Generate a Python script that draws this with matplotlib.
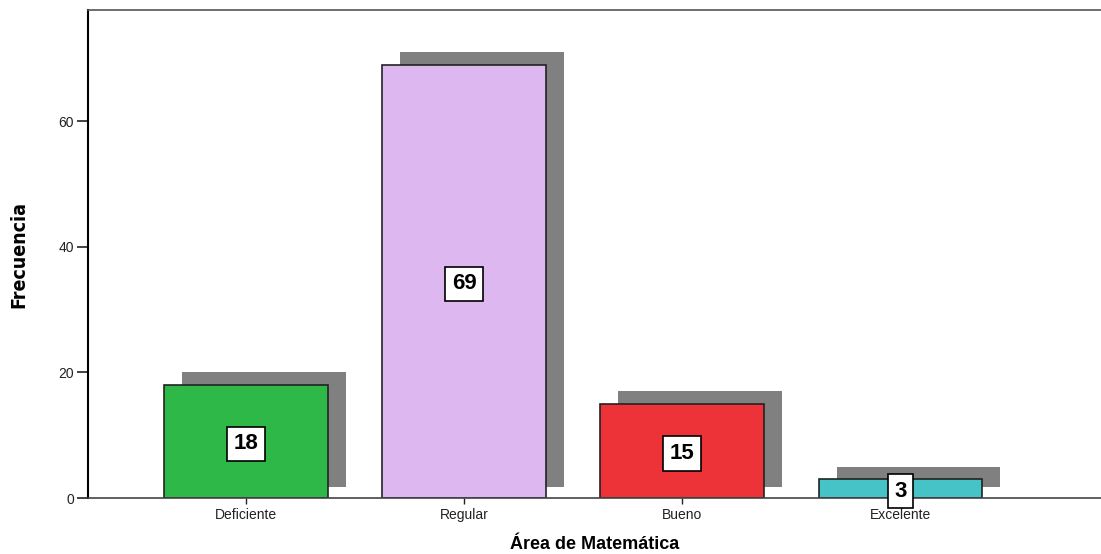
import numpy as np
import matplotlib.pyplot as plt
from matplotlib.patches import Rectangle
from matplotlib.transforms import offset_copy

categorias = ['Deficiente', 'Regular', 'Bueno', 'Excelente']
frecuencias = [18, 69, 15, 3]
colores = ['#2EB848', '#DDB8F0', '#EE3338', '#45C3C6']

plt.rcParams['font.family'] = ['Liberation Sans', 'DejaVu Sans']

fig = plt.figure(figsize=(11.01, 5.54), dpi=100)
ax = fig.add_axes([88 / 1101, 1 - 498 / 554, (1101 - 88) / 1101, (498 - 10) / 554])

x = np.arange(len(categorias))
ancho = 0.75

# sombras desplazadas
sombra = offset_copy(ax.transData, fig=fig, x=18, y=0, units='dots')
for xi, v in zip(x, frecuencias):
    ax.add_patch(Rectangle((xi - ancho / 2, 1.8), ancho, v + 0.2,
                           facecolor='#808080', edgecolor='none',
                           transform=sombra, zorder=1))

ax.bar(x, frecuencias, width=ancho, color=colores, edgecolor='#222222',
       linewidth=1.2, zorder=2)

for xi, v in zip(x, frecuencias):
    ax.text(xi, v / 2 - 0.4, str(v), ha='center', va='center', fontsize=16,
            fontweight='bold', zorder=4,
            bbox=dict(boxstyle='square,pad=0.3', facecolor='white',
                      edgecolor='black', linewidth=1.2))

ax.set_xlim(-0.725, 3.92)
ax.set_ylim(0, 77.7)
ax.set_yticks([0, 20, 40, 60])
ax.set_xticks(x)
ax.set_xticklabels(categorias)
ax.tick_params(axis='y', length=8, width=1.2, labelsize=10, colors='#222222', pad=2)
ax.tick_params(axis='x', length=4, width=1, labelsize=10, colors='#222222', pad=3)

ax.spines['right'].set_visible(False)
ax.spines['left'].set_linewidth(1.5)
ax.spines['bottom'].set_linewidth(1.2)
ax.spines['bottom'].set_color('#444444')
ax.spines['top'].set_color('#555555')
ax.spines['top'].set_linewidth(1.2)

ax.set_xlabel('Área de Matemática', fontsize=13, fontweight='bold', labelpad=10)
ax.set_ylabel('Frecuencia', fontsize=14, fontweight='bold', labelpad=22,
              family='DejaVu Sans', fontstretch='condensed')

fig.savefig('out.png', dpi=100)
